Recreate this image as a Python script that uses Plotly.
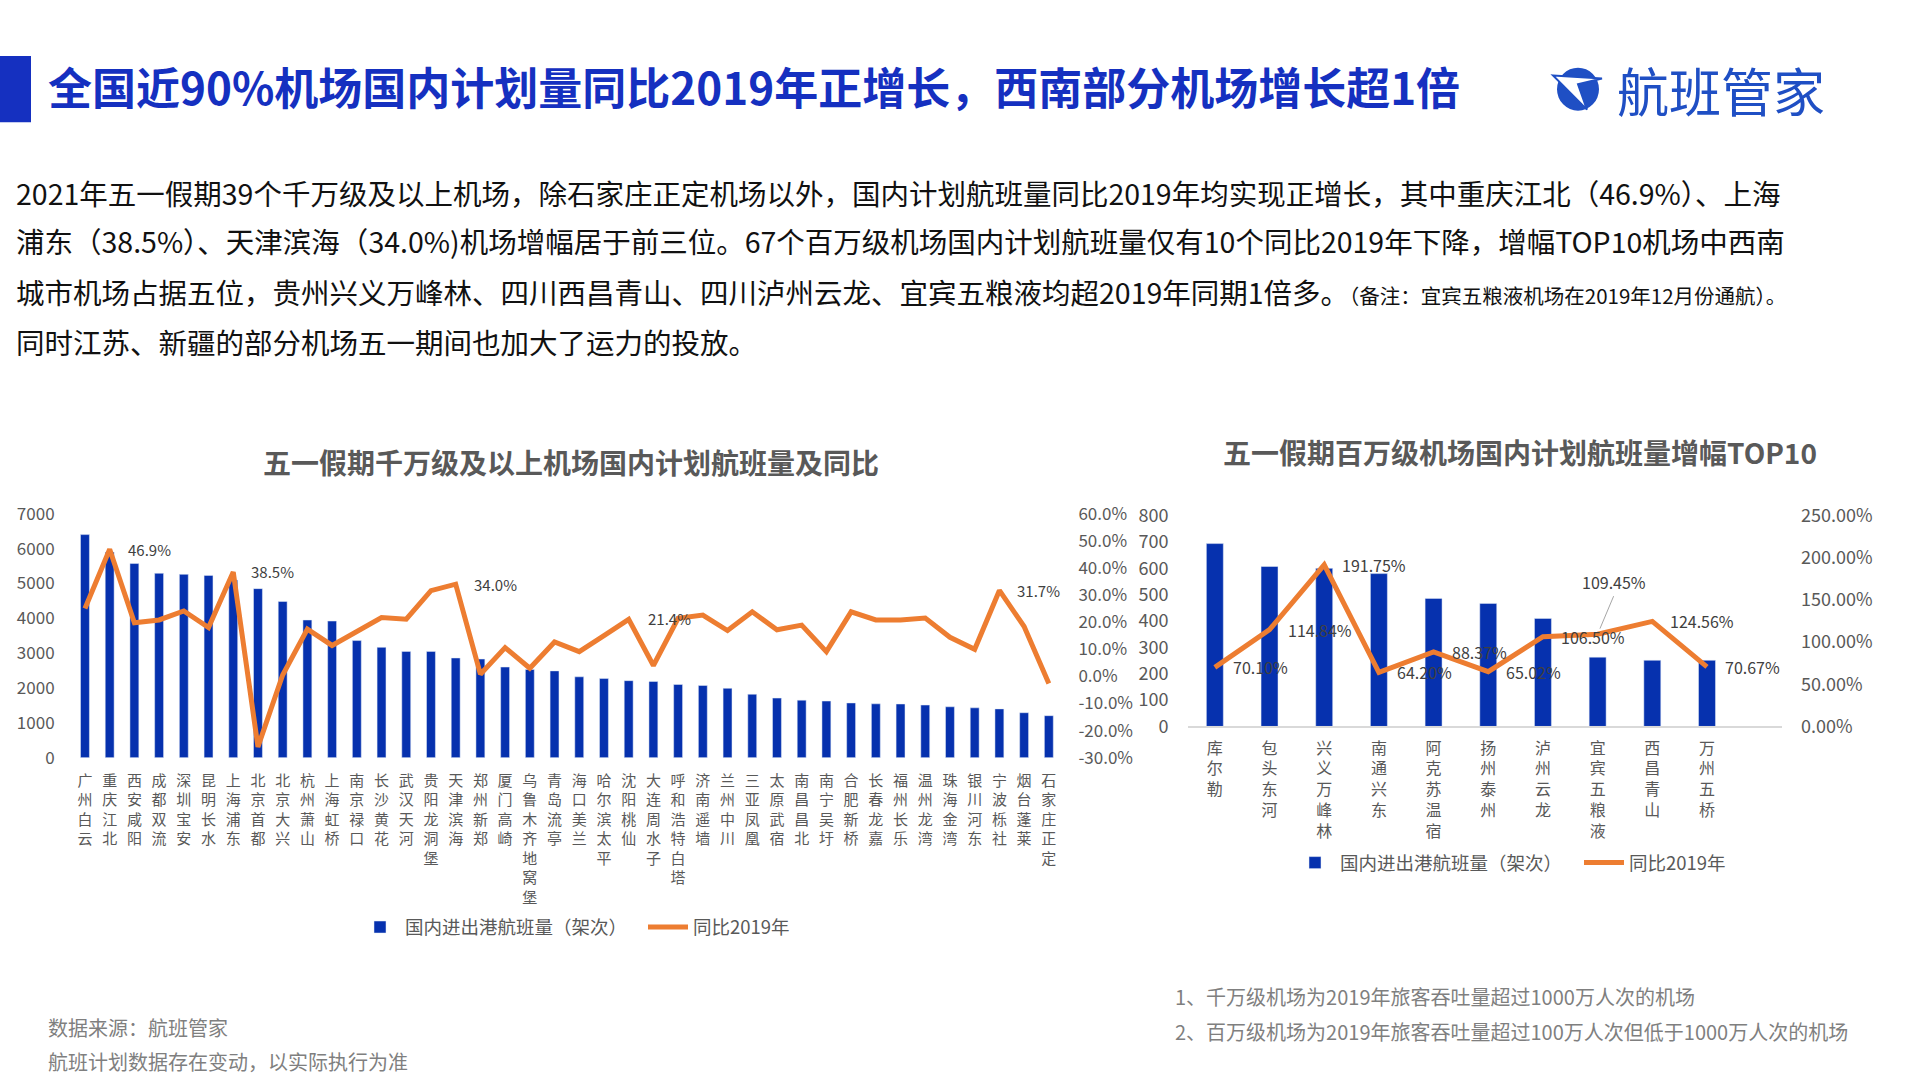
import plotly.graph_objects as go

# ---------------- data ----------------
names_left = ["广州白云", "重庆江北", "西安咸阳", "成都双流", "深圳宝安", "昆明长水", "上海浦东", "北京首都",
              "北京大兴", "杭州萧山", "上海虹桥", "南京禄口", "长沙黄花", "武汉天河", "贵阳龙洞堡", "天津滨海",
              "郑州新郑", "厦门高崎", "乌鲁木齐地窝堡", "青岛流亭", "海口美兰", "哈尔滨太平", "沈阳桃仙",
              "大连周水子", "呼和浩特白塔", "济南遥墙", "兰州中川", "三亚凤凰", "太原武宿", "南昌昌北",
              "南宁吴圩", "合肥新桥", "长春龙嘉", "福州长乐", "温州龙湾", "珠海金湾", "银川河东", "宁波栎社",
              "烟台蓬莱", "石家庄正定"]
flights_left = [6400, 5900, 5570, 5290, 5260, 5230, 5100, 4850, 4480, 3950, 3920, 3360, 3165, 3050, 3050, 2860,
                2830, 2600, 2530, 2490, 2320, 2270, 2210, 2185, 2100, 2070, 1990, 1820, 1710, 1650, 1625, 1570,
                1545, 1540, 1510, 1460, 1430, 1400, 1290, 1205]
pct_left = [25.0, 46.9, 19.8, 20.8, 24.1, 18.0, 38.5, -26.0, 0.5, 17.4, 11.4, 16.5, 21.7, 21.1, 31.6, 34.0,
            0.8, 10.6, 3.0, 12.7, 9.1, 15.0, 21.0, 4.0, 21.4, 22.6, 16.9, 23.8, 17.2, 18.9, 9.1, 23.8, 20.8,
            20.8, 21.5, 14.4, 10.0, 31.7, 18.4, -2.6]
labeled_left = ["重庆江北", "上海浦东", "天津滨海", "呼和浩特白塔", "宁波栎社"]

names_right = ["库尔勒", "包头东河", "兴义万峰林", "南通兴东", "阿克苏温宿", "扬州泰州", "泸州云龙",
               "宜宾五粮液", "西昌青山", "万州五桥"]
flights_right = [694, 607, 600, 580, 486, 467, 410, 263, 251, 251]
pct_right = [70.10, 114.84, 191.75, 64.20, 88.37, 65.02, 106.50, 109.45, 124.56, 70.67]

left_ticks = [0, 1000, 2000, 3000, 4000, 5000, 6000, 7000]
left_pct_ticks = [-30, -20, -10, 0, 10, 20, 30, 40, 50, 60]
right_ticks = [0, 100, 200, 300, 400, 500, 600, 700, 800]
right_pct_ticks = [0, 50, 100, 150, 200, 250]

series_bar = "国内进出港航班量（架次）"
series_line = "同比2019年"

title_text = "全国近90%机场国内计划量同比2019年正增长，西南部分机场增长超1倍"
para_lines = [
    "2021年五一假期39个千万级及以上机场，除石家庄正定机场以外，国内计划航班量同比2019年均实现正增长，其中重庆江北（46.9%）、上海",
    "浦东（38.5%）、天津滨海（34.0%)机场增幅居于前三位。67个百万级机场国内计划航班量仅有10个同比2019年下降，增幅TOP10机场中西南",
    "城市机场占据五位，贵州兴义万峰林、四川西昌青山、四川泸州云龙、宜宾五粮液均超2019年同期1倍多。",
    "同时江苏、新疆的部分机场五一期间也加大了运力的投放。",
]
remark = "（备注：宜宾五粮液机场在2019年12月份通航）。"
chart_title_left = "五一假期千万级及以上机场国内计划航班量及同比"
chart_title_right = "五一假期百万级机场国内计划航班量增幅TOP10"
notes_left = ["数据来源：航班管家", "航班计划数据存在变动，以实际执行为准"]
notes_right = ["1、千万级机场为2019年旅客吞吐量超过1000万人次的机场",
               "2、百万级机场为2019年旅客吞吐量超过100万人次但低于1000万人次的机场"]
logo_text = "航班管家"

# ---------------- style ----------------
W, H = 1920, 1080
FONT = "Noto Sans CJK SC"
BLUE = "#0631AE"
ORANGE = "#ED7D31"
TITLE_BLUE = "#1530C0"
LOGO_BLUE = "#1F4FC4"
GREY = "#595959"
LABEL = "#404040"
NOTE = "#7F7F7F"


def px(x):
    return x / W


def py(y):
    return 1 - y / H


def vertical(s):
    return "<br>".join(list(s))


fig = go.Figure()
fig.add_trace(go.Bar(x=names_left, y=flights_left, marker_color=BLUE, name=series_bar,
                     xaxis="x", yaxis="y", legend="legend", hoverinfo="skip"))
fig.add_trace(go.Scatter(x=names_left, y=pct_left, mode="lines", name=series_line,
                         line=dict(color=ORANGE, width=5), xaxis="x", yaxis="y2",
                         legend="legend", hoverinfo="skip"))
fig.add_trace(go.Bar(x=names_right, y=flights_right, marker_color=BLUE, name=series_bar, width=0.31,
                     xaxis="x3", yaxis="y3", legend="legend2", hoverinfo="skip"))
fig.add_trace(go.Scatter(x=names_right, y=pct_right, mode="lines", name=series_line,
                         line=dict(color=ORANGE, width=5), xaxis="x3", yaxis="y4",
                         legend="legend2", hoverinfo="skip"))

tickfont_l = dict(family=FONT, size=17, color=GREY)
tickfont_r = dict(family=FONT, size=18, color=GREY)
legend_font = dict(family=FONT, size=18.5, color=GREY)

fig.update_layout(
    width=W, height=H,
    margin=dict(l=0, r=0, t=0, b=0),
    paper_bgcolor="white", plot_bgcolor="white",
    font=dict(family=FONT, color=GREY),
    bargap=0.64,
    xaxis=dict(domain=[px(72.6), px(1062.4)], anchor="y", type="category",
               tickvals=names_left, ticktext=[vertical(n) for n in names_left],
               tickangle=0, tickfont=dict(family=FONT, size=15, color=GREY),
               showgrid=False, showline=False, zeroline=False, ticks="", ticklabelstandoff=12),
    yaxis=dict(domain=[py(761), py(511)], range=[0, 7000], tickvals=left_ticks,
               tickfont=tickfont_l, showgrid=False, zeroline=False, showline=False,
               ticks="", ticklabelstandoff=17),
    yaxis2=dict(overlaying="y", side="right", anchor="x", range=[-30, 60],
                tickvals=left_pct_ticks, ticktext=[f"{v:.1f}%" for v in left_pct_ticks],
                tickfont=tickfont_l, showgrid=False, zeroline=False, showline=False,
                ticks="", ticklabelstandoff=15),
    xaxis3=dict(domain=[px(1187.5), px(1782)], anchor="y3", type="category",
                tickvals=names_right, ticktext=[vertical(n) for n in names_right],
                tickangle=0, tickfont=dict(family=FONT, size=16, color=GREY),
                showgrid=False, zeroline=False, showline=True, linecolor="#D9D9D9", linewidth=2,
                ticks="", ticklabelstandoff=6),
    yaxis3=dict(domain=[py(729), py(513)], anchor="x3", range=[0, 800], tickvals=right_ticks,
                tickfont=tickfont_r, showgrid=False, zeroline=False, showline=False,
                ticks="", ticklabelstandoff=18),
    yaxis4=dict(overlaying="y3", side="right", anchor="x3", range=[0, 250],
                tickvals=right_pct_ticks, ticktext=[f"{v:.2f}%" for v in right_pct_ticks],
                tickfont=tickfont_r, showgrid=False, zeroline=False, showline=False,
                ticks="", ticklabelstandoff=18),
    legend=dict(orientation="h", x=px(355), y=py(935), xanchor="left", yanchor="middle",
                font=legend_font, bgcolor="rgba(0,0,0,0)", traceorder="normal",
                itemwidth=40, entrywidth=233, entrywidthmode="pixels"),
    legend2=dict(orientation="h", x=px(1290), y=py(869), xanchor="left", yanchor="middle",
                 font=legend_font, bgcolor="rgba(0,0,0,0)", traceorder="normal",
                 itemwidth=40, entrywidth=234, entrywidthmode="pixels"),
)

annotations = []
# header
annotations.append(dict(x=px(46), y=py(73), xref="paper", yref="paper", xanchor="left", yanchor="middle",
                        text=f"<b>{title_text}</b>", showarrow=False,
                        font=dict(family=FONT, size=44, color=TITLE_BLUE)))
annotations.append(dict(x=px(1721), y=py(76), xref="paper", yref="paper", xanchor="center", yanchor="middle",
                        text=logo_text, showarrow=False,
                        font=dict(family=FONT, size=52, color=LOGO_BLUE)))
# paragraph
para_y = [182, 231, 283, 335]
for i, (line, yy) in enumerate(zip(para_lines, para_y)):
    txt = line
    if i == 2:
        txt = line + f"<span style='font-size:20.5px'>{remark}</span>"
    annotations.append(dict(x=px(14), y=py(yy), xref="paper", yref="paper", xanchor="left", yanchor="middle",
                            text=txt, showarrow=False, font=dict(family=FONT, size=28.5, color="#111111")))
# chart titles
annotations.append(dict(x=px(571), y=py(458), xref="paper", yref="paper", xanchor="center", yanchor="middle",
                        text=f"<b>{chart_title_left}</b>", showarrow=False,
                        font=dict(family=FONT, size=28, color=GREY)))
annotations.append(dict(x=px(1520), y=py(448), xref="paper", yref="paper", xanchor="center", yanchor="middle",
                        text=f"<b>{chart_title_right}</b>", showarrow=False,
                        font=dict(family=FONT, size=28, color=GREY)))
# left data labels
for n in labeled_left:
    i = names_left.index(n)
    v = pct_left[i]
    if n == "呼和浩特白塔":
        annotations.append(dict(x=n, y=v, xref="x", yref="y2", xanchor="center", yanchor="middle",
                                xshift=-9, text=f"{v:.1f}%", showarrow=False,
                                font=dict(family=FONT, size=15, color=LABEL)))
    else:
        annotations.append(dict(x=n, y=v, xref="x", yref="y2", xanchor="left", yanchor="middle",
                                xshift=16, text=f"{v:.1f}%", showarrow=False,
                                font=dict(family=FONT, size=15, color=LABEL)))
# right data labels
for n, v in zip(names_right, pct_right):
    if n == "宜宾五粮液":
        annotations.append(dict(x=n, y=v, xref="x3", yref="y4", text=f"{v:.2f}%", showarrow=True,
                                arrowhead=0, arrowwidth=1, arrowcolor="#A6A6A6", ax=16, ay=-38,
                                standoff=6, yanchor="bottom",
                                font=dict(family=FONT, size=16, color=LABEL)))
    else:
        annotations.append(dict(x=n, y=v, xref="x3", yref="y4", xanchor="left", yanchor="middle",
                                xshift=16, text=f"{v:.2f}%", showarrow=False,
                                font=dict(family=FONT, size=16, color=LABEL)))
# notes
for t, yy in zip(notes_left, [1037, 1072]):
    annotations.append(dict(x=px(46), y=py(yy), xref="paper", yref="paper", xanchor="left", yanchor="middle",
                            text=t, showarrow=False, font=dict(family=FONT, size=20, color=NOTE)))
for t, yy in zip(notes_right, [1006, 1042]):
    annotations.append(dict(x=px(1173), y=py(yy), xref="paper", yref="paper", xanchor="left", yanchor="middle",
                            text=t, showarrow=False, font=dict(family=FONT, size=20, color=NOTE)))
fig.update_layout(annotations=annotations)

# decorative shapes: title bar and logo mark
cx, cy = 1578, 76
shapes = [
    dict(type="rect", xref="paper", yref="paper", x0=px(0), x1=px(31), y0=py(110), y1=py(42),
         fillcolor=TITLE_BLUE, line=dict(width=0)),
    dict(type="circle", xref="paper", yref="paper", x0=px(cx - 21), x1=px(cx + 21), y0=py(cy + 22),
         y1=py(cy - 22), fillcolor=LOGO_BLUE, line=dict(width=0)),
    dict(type="path", xref="paper", yref="paper",
         path=(f"M {px(cx - 25)} {py(cy - 14)} L {px(cx + 24)} {py(cy - 11)} "
               f"L {px(cx)} {py(cy - 5)} L {px(cx + 9)} {py(cy + 21)} Z"),
         fillcolor="white", line=dict(color=LOGO_BLUE, width=2)),
]
fig.update_layout(shapes=shapes)

fig.write_html("out.html", config={"displayModeBar": False},
               post_script="document.body.style.margin='0px';")
